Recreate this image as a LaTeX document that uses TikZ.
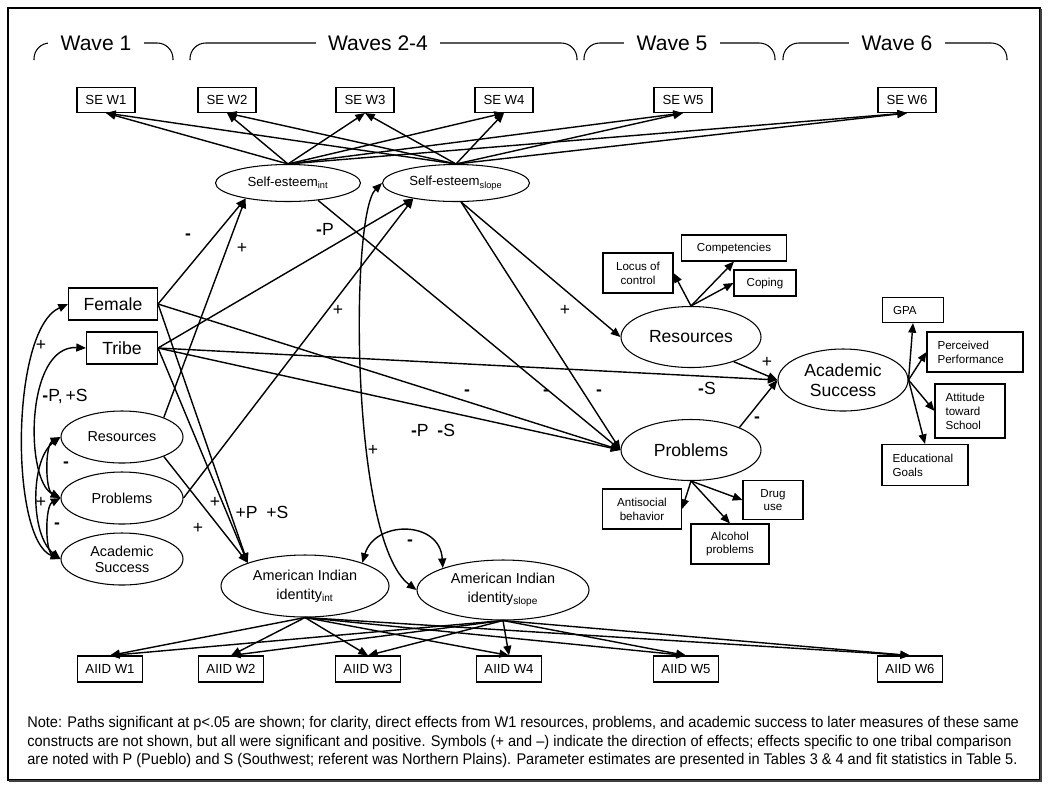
\documentclass[tikz,border=0pt]{standalone}
\usepackage{fontspec}
\setmainfont{Liberation Sans}
\newfontfamily\notefont[FakeStretch=0.94]{Liberation Sans}
\usepackage{tikz}
\usetikzlibrary{shapes.geometric,arrows.meta,positioning,calc}
\newcommand{\mn}{\textbf{-}}
\newcommand{\fs}[2]{\fontsize{#1}{#2}\selectfont}

\begin{document}
\begin{tikzpicture}[x=0.02cm,y=-0.02cm,
    wbox/.style 2 args={draw, line width=0.6pt, inner sep=0pt, minimum width=#1*0.02cm, minimum height=#2*0.02cm, font=\fs{7.5}{9}},
    ind/.style 2 args={draw, line width=0.6pt, inner sep=0pt, align=center, minimum width=#1*0.02cm, minimum height=#2*0.02cm, font=\fs{6.6}{7.8}},
    rbox/.style 2 args={draw, line width=0.6pt, inner xsep=6pt, inner ysep=0pt, align=left, text width=#1*0.02cm-12pt, minimum height=#2*0.02cm, font=\fs{6.6}{7.9}},
    lat/.style 2 args={draw, ellipse, line width=0.6pt, inner sep=0pt, align=center, minimum width=#1*0.02cm, minimum height=#2*0.02cm},
    pth/.style={-{Triangle[length=5.5pt,width=4.5pt]}, line width=0.8pt},
    cov/.style={{Triangle[length=5.5pt,width=4.5pt]}-{Triangle[length=5.5pt,width=4.5pt]}, line width=0.8pt},
    sgn/.style={font=\fs{10}{10}, inner sep=0pt}]
\useasboundingbox (0,0) rectangle (1050,792);
\draw[line width=0.6pt] (8,8) rectangle (1040,780);
\draw[line width=1.4pt, black!75] (9,781) -- (1041,781) -- (1041,9);

% wave brackets
\foreach \a/\b/\m/\t in {34/173/96/Wave 1, 190/577/378/Waves 2-4, 584/775/672/Wave 5, 783/1007/897/Wave 6} {
    \draw[line width=0.6pt, rounded corners=9pt] (\a,60) -- (\a,43) -- (\b,43) -- (\b,60);
    \node[fill=white, inner xsep=7pt, inner ysep=1pt, font=\fs{12}{12}] (wv\a) at (\m,43) {\t};
}

% observed indicators
\foreach \i/\x in {1/106,2/227,3/365,4/504,5/683,6/907}
    \node[wbox={58}{25}] (sew\i) at (\x,100) {SE W\i};
\foreach \i/\x in {1/110,2/231,3/368,4/509,5/686,6/910}
    \node[wbox={65}{26}] (aiid\i) at (\x,669) {AIID W\i};

% growth factors
\node[lat={145}{37}, font=\fs{7.5}{9}] (seint) at (288,183) {Self-esteem\textsubscript{int}};
\node[lat={147}{37}, font=\fs{7.5}{9}] (seslope) at (456,183) {Self-esteem\textsubscript{slope}};
\node[lat={168}{62}, font=\fs{8.2}{10.8}] (aiint) at (305,586) {American Indian\\identity\textsubscript{int}};
\node[lat={172}{60}, font=\fs{8.2}{10.8}] (aislope) at (503,590) {American Indian\\identity\textsubscript{slope}};

% wave 1
\node[draw, line width=0.6pt, minimum width=89*0.02cm, minimum height=32*0.02cm, font=\fs{10}{12}] (female) at (113,304) {Female};
\node[draw, line width=0.6pt, minimum width=71*0.02cm, minimum height=32*0.02cm, font=\fs{10}{12}] (tribe) at (122,348) {Tribe};
\node[lat={122}{52}, font=\fs{8.2}{9}] (lres) at (122,437) {Resources};
\node[lat={122}{52}, font=\fs{8.2}{9}] (lprob) at (122,498) {Problems};
\node[lat={122}{52}, font=\fs{8.2}{9}] (lacad) at (122,559) {Academic\\Success};

% wave 6 outcomes
\node[lat={140}{61}, font=\fs{10}{11.5}] (rres) at (691,337) {Resources};
\node[lat={140}{61}, font=\fs{10}{11.5}] (rprob) at (691,450) {Problems};
\node[lat={130}{62}, font=\fs{10}{11.3}] (racad) at (843,380) {Academic\\Success};

\node[ind={70}{40}] (locus) at (638,273) {Locus of\\control};
\node[ind={105}{26}] (comp) at (734,248) {Competencies};
\node[ind={62}{26}] (coping) at (765,283) {Coping};
\node[ind={79}{40}] (anti) at (642,509) {Antisocial\\behavior};
\node[ind={60}{39}] (drug) at (773,500) {Drug\\use};
\node[ind={78}{40}] (alc) at (730,544) {Alcohol\\problems};
\node[rbox={61}{25}] (gpa) at (913,310) {GPA};
\node[rbox={96}{40}] (perc) at (975,352) {Perceived\\Performance};
\node[rbox={70}{54}] (att) at (970,411) {Attitude\\toward\\School};
\node[rbox={86}{41}] (edu) at (925,465) {Educational\\Goals};

% loadings
\foreach \i in {1,...,6} {
    \draw[pth] (seint.north) -- (sew\i.south);
    \draw[pth] (seslope.north) -- (sew\i.south);
    \draw[pth] (aiint.south) -- (aiid\i.north);
    \draw[pth] (aislope.south) -- (aiid\i.north);
}
\draw[pth] (rres.north) -- (locus.east);
\draw[pth] (rres.north) -- (comp.south);
\draw[pth] (rres.north) -- (coping.west);
\draw[pth] (rprob.south) -- (anti.east);
\draw[pth] (rprob.south) -- (drug.west);
\draw[pth] (rprob.south) -- (alc.north);
\draw[pth] (racad.east) -- (gpa.south);
\draw[pth] (racad.east) -- (perc.west);
\draw[pth] (racad.east) -- (att.west);
\draw[pth] (racad.east) -- (edu.north);

% structural paths
\draw[pth] (female.east) -- (seint.200);
\draw[pth] (lres.25) -- (seint.200);
\draw[pth] (tribe.east) -- (seslope.200);
\draw[pth] (lprob.east) -- (seslope.200);
\draw[pth] (female.east) -- (aiint.158);
\draw[pth] (tribe.east) -- (aiint.158);
\draw[pth] (lres.-25) -- (aiint.158);
\draw[pth] (female.east) -- (rprob.west);
\draw[pth] (tribe.east) -- (rprob.west);
\draw[pth] (tribe.east) -- (racad.west);
\draw[pth] (seint.-30) -- (rprob.west);
\draw[pth] (seslope.-75) -- (rprob.west);
\draw[pth] (seslope.-75) -- (rres.west);
\draw[pth] (rres.-30) -- (racad.west);
\draw[pth] (rprob.25) -- (racad.west);

% covariances
\draw[cov] (seslope.west) .. controls (350,215) and (350,540) .. (aislope.west);
\draw[cov] (aiint.22) .. controls (375,520) and (440,520) .. (aislope.160);
\draw[cov] (female.west) .. controls (10,330) and (10,540) .. (lacad.west);
\draw[cov] (tribe.west) .. controls (25,345) and (25,480) .. (lprob.west);
\draw[cov] (lres.west) .. controls (45,445) and (45,490) .. (lprob.west);
\draw[cov] (lprob.west) .. controls (45,506) and (45,551) .. (lacad.west);
\draw[cov] (lres.west) .. controls (30,460) and (30,535) .. (lacad.west);

% signs
\foreach \x/\y/\t [count=\k] in {188/237/\mn, 242/248/+, 325/229/{\mn P}, 338/310/+, 467/393/\mn,
    707/388/{\mn S}, 433/430/{\mn P\hspace{5pt}\mn S}, 546/393/\mn, 599/393/\mn, 565/310/+,
    767/362/+, 757/420/\mn, 215/502/+, 262/512/{+P\hspace{5pt}+S}, 198/528/+,
    373/450/+, 410/543/\mn, 41/345/+, 65/396/{\mn P,\,+S}, 66/465/\mn, 57/526/\mn, 41/502/+}
    \node[sgn] (sg\k) at (\x,\y) {\t};

\node[anchor=west, align=left, inner sep=0pt, font=\notefont\fs{8.8}{10.8}] (note) at (27,742)
{Note: Paths significant at p<.05 are shown; for clarity, direct effects from W1 resources, problems, and academic success to later measures of these same\\
constructs are not shown, but all were significant and positive. Symbols (+ and –) indicate the direction of effects; effects specific to one tribal comparison\\
are noted with P (Pueblo) and S (Southwest; referent was Northern Plains). Parameter estimates are presented in Tables 3 \& 4 and fit statistics in Table 5.};
\end{tikzpicture}
\end{document}
